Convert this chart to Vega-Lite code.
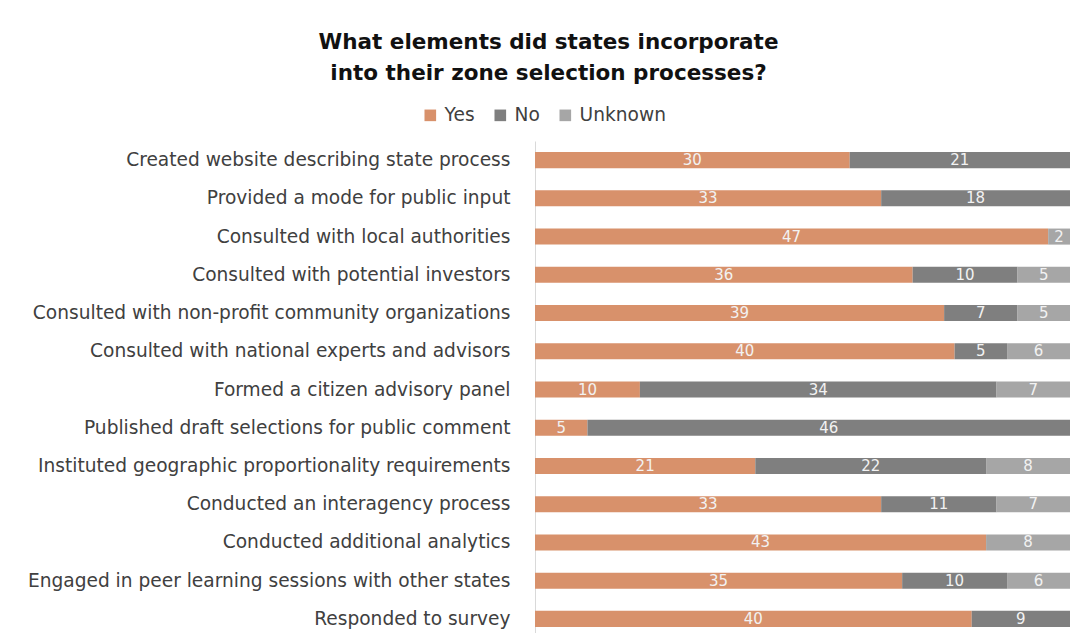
{
  "$schema": "https://vega.github.io/schema/vega-lite/v6.json",
  "autosize": {"type": "none"},
  "width": 535,
  "height": 497,
  "padding": {"left": 535, "top": 141, "right": 19, "bottom": 0},
  "background": "white",
  "title": {
    "text": ["What elements did states incorporate", "into their zone selection processes?"],
    "anchor": "middle",
    "dx": -254,
    "fontSize": 21.5,
    "font": "DejaVu Sans",
    "fontWeight": "bold",
    "color": "#111111",
    "lineHeight": 31,
    "offset": 22
  },
  "data": {
    "values": [
      {"idx": 1, "cat": "Created website describing state process", "resp": "Yes", "ord": 1, "value": 30},
      {"idx": 1, "cat": "Created website describing state process", "resp": "No", "ord": 2, "value": 21},
      {"idx": 2, "cat": "Provided a mode for public input", "resp": "Yes", "ord": 1, "value": 33},
      {"idx": 2, "cat": "Provided a mode for public input", "resp": "No", "ord": 2, "value": 18},
      {"idx": 3, "cat": "Consulted with local authorities", "resp": "Yes", "ord": 1, "value": 47},
      {"idx": 3, "cat": "Consulted with local authorities", "resp": "Unknown", "ord": 3, "value": 2},
      {"idx": 4, "cat": "Consulted with potential investors", "resp": "Yes", "ord": 1, "value": 36},
      {"idx": 4, "cat": "Consulted with potential investors", "resp": "No", "ord": 2, "value": 10},
      {"idx": 4, "cat": "Consulted with potential investors", "resp": "Unknown", "ord": 3, "value": 5},
      {"idx": 5, "cat": "Consulted with non-profit community organizations", "resp": "Yes", "ord": 1, "value": 39},
      {"idx": 5, "cat": "Consulted with non-profit community organizations", "resp": "No", "ord": 2, "value": 7},
      {"idx": 5, "cat": "Consulted with non-profit community organizations", "resp": "Unknown", "ord": 3, "value": 5},
      {"idx": 6, "cat": "Consulted with national experts and advisors", "resp": "Yes", "ord": 1, "value": 40},
      {"idx": 6, "cat": "Consulted with national experts and advisors", "resp": "No", "ord": 2, "value": 5},
      {"idx": 6, "cat": "Consulted with national experts and advisors", "resp": "Unknown", "ord": 3, "value": 6},
      {"idx": 7, "cat": "Formed a citizen advisory panel", "resp": "Yes", "ord": 1, "value": 10},
      {"idx": 7, "cat": "Formed a citizen advisory panel", "resp": "No", "ord": 2, "value": 34},
      {"idx": 7, "cat": "Formed a citizen advisory panel", "resp": "Unknown", "ord": 3, "value": 7},
      {"idx": 8, "cat": "Published draft selections for public comment", "resp": "Yes", "ord": 1, "value": 5},
      {"idx": 8, "cat": "Published draft selections for public comment", "resp": "No", "ord": 2, "value": 46},
      {"idx": 9, "cat": "Instituted geographic proportionality requirements", "resp": "Yes", "ord": 1, "value": 21},
      {"idx": 9, "cat": "Instituted geographic proportionality requirements", "resp": "No", "ord": 2, "value": 22},
      {"idx": 9, "cat": "Instituted geographic proportionality requirements", "resp": "Unknown", "ord": 3, "value": 8},
      {"idx": 10, "cat": "Conducted an interagency process", "resp": "Yes", "ord": 1, "value": 33},
      {"idx": 10, "cat": "Conducted an interagency process", "resp": "No", "ord": 2, "value": 11},
      {"idx": 10, "cat": "Conducted an interagency process", "resp": "Unknown", "ord": 3, "value": 7},
      {"idx": 11, "cat": "Conducted additional analytics", "resp": "Yes", "ord": 1, "value": 43},
      {"idx": 11, "cat": "Conducted additional analytics", "resp": "Unknown", "ord": 3, "value": 8},
      {"idx": 12, "cat": "Engaged in peer learning sessions with other states", "resp": "Yes", "ord": 1, "value": 35},
      {"idx": 12, "cat": "Engaged in peer learning sessions with other states", "resp": "No", "ord": 2, "value": 10},
      {"idx": 12, "cat": "Engaged in peer learning sessions with other states", "resp": "Unknown", "ord": 3, "value": 6},
      {"idx": 13, "cat": "Responded to survey", "resp": "Yes", "ord": 1, "value": 40},
      {"idx": 13, "cat": "Responded to survey", "resp": "No", "ord": 2, "value": 9}
    ]
  },
  "transform": [
    {"stack": "value", "groupby": ["cat"], "sort": [{"field": "ord", "order": "ascending"}], "offset": "normalize", "as": ["v0", "v1"]},
    {"calculate": "(datum.v0 + datum.v1) / 2", "as": "vmid"}
  ],
  "encoding": {
    "y": {
      "field": "cat",
      "type": "nominal",
      "sort": {"field": "idx", "order": "ascending"},
      "scale": {"paddingInner": 0.58, "paddingOuter": 0.29},
      "axis": {
        "title": null,
        "ticks": false,
        "domainColor": "#D9D9D9",
        "domainWidth": 1,
        "labelPadding": 25,
        "labelFont": "DejaVu Sans",
        "labelFontSize": 18.6,
        "labelColor": "#404040",
        "labelLimit": 600
      }
    }
  },
  "layer": [
    {
      "mark": {"type": "bar"},
      "encoding": {
        "x": {"field": "v0", "type": "quantitative", "scale": {"domain": [0, 1], "nice": false}, "axis": null},
        "x2": {"field": "v1"},
        "color": {
          "field": "resp",
          "type": "nominal",
          "scale": {"domain": ["Yes", "No", "Unknown"], "range": ["#D8916B", "#7F7F7F", "#A6A6A6"]},
          "legend": {
            "title": null,
            "orient": "none",
            "direction": "horizontal",
            "legendX": -114,
            "legendY": -35,
            "symbolType": "square",
            "symbolSize": 135,
            "symbolStrokeWidth": 0,
            "labelFont": "DejaVu Sans",
            "labelFontSize": 18.6,
            "labelColor": "#404040",
            "columnPadding": 16,
            "labelOffset": 5
          }
        }
      }
    },
    {
      "mark": {"type": "text", "font": "DejaVu Sans", "fontSize": 15, "color": "#F2F2F2", "baseline": "middle", "align": "center"},
      "encoding": {
        "x": {"field": "vmid", "type": "quantitative"},
        "text": {"field": "value", "type": "quantitative"}
      }
    }
  ],
  "config": {"view": {"stroke": null}}
}
